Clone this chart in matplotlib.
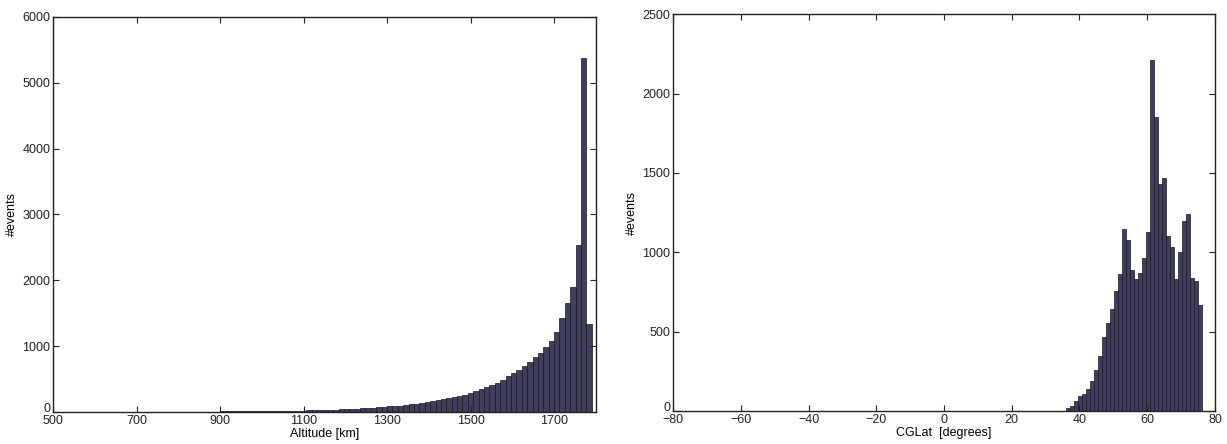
import numpy as np
import matplotlib.pyplot as plt
import matplotlib.transforms as mtransforms

plt.rcParams['font.family'] = ['Liberation Sans', 'DejaVu Sans']

# altitude histogram: 100 bins between 500 and 1790 km
alt_edges = np.linspace(500, 1790, 101)
alt_counts = [2, 2, 2, 2, 2, 3, 3, 3, 3, 3,
              3, 3, 4, 4, 4, 4, 4, 5, 5, 5,
              5, 6, 6, 6, 6, 7, 7, 7, 8, 8,
              8, 9, 9, 10, 10, 11, 11, 12, 13, 13,
              14, 15, 16, 17, 18, 20, 22, 24, 26, 28,
              31, 34, 37, 40, 44, 48, 52, 56, 61, 66,
              72, 78, 84, 91, 98, 106, 115, 125, 136, 148,
              162, 176, 192, 208, 226, 245, 265, 290, 315, 345,
              375, 410, 445, 490, 540, 590, 640, 700, 760, 830,
              900, 980, 1080, 1210, 1430, 1650, 1900, 2540, 5380, 1330]

# CGLat histogram
lat_edges = np.linspace(36.1, 76.1, 35)
lat_counts = [17, 32, 67, 95, 110, 137, 190, 257, 347, 467,
              558, 642, 758, 863, 1145, 1078, 888, 832, 872, 964,
              1130, 2210, 1850, 1430, 1470, 1100, 1035, 830, 1000, 1200,
              1240, 840, 820, 670]

bar_col = '#3f3f5c'
edge_col = '#17171f'

fig = plt.figure(figsize=(12.27, 4.44), dpi=100)
ax1 = fig.add_axes([0.0432, 0.072, 0.4425, 0.890])
ax2 = fig.add_axes([0.5485, 0.074, 0.4417, 0.894])

ax1.bar(alt_edges[:-1], alt_counts, width=np.diff(alt_edges), align='edge',
        color=bar_col, edgecolor=edge_col, linewidth=0.5)
ax1.set_xlim(500, 1800)
ax1.set_ylim(0, 6000)
ax1.set_xticks(np.arange(500, 1800, 200))
ax1.set_yticks(np.arange(0, 6001, 1000))
ax1.set_xlabel('Altitude [km]', labelpad=1)
ax1.set_ylabel('#events', labelpad=3)

ax2.bar(lat_edges[:-1], lat_counts, width=np.diff(lat_edges), align='edge',
        color=bar_col, edgecolor=edge_col, linewidth=0.5)
ax2.set_xlim(-80, 80)
ax2.set_ylim(0, 2500)
ax2.set_xticks(np.arange(-80, 81, 20))
ax2.set_yticks(np.arange(0, 2501, 500))
ax2.set_xlabel('CGLat  [degrees]', labelpad=1)
ax2.set_ylabel('#events', labelpad=3)

# nudge the "0" up a few pixels so it clears the first x label
nudge = mtransforms.ScaledTranslation(0, 3 / 72, fig.dpi_scale_trans)

for ax in (ax1, ax2):
    ax.tick_params(direction='in', top=True, right=True, length=4,
                   labelsize=9, pad=2, colors='#222222')
    for s in ax.spines.values():
        s.set_linewidth(1.0)
        s.set_color('#222222')
    ax.xaxis.label.set_size(9)
    ax.yaxis.label.set_size(9)
    lab0 = ax.get_yticklabels()[0]
    lab0.set_transform(lab0.get_transform() + nudge)

fig.savefig('out.png', dpi=100)
